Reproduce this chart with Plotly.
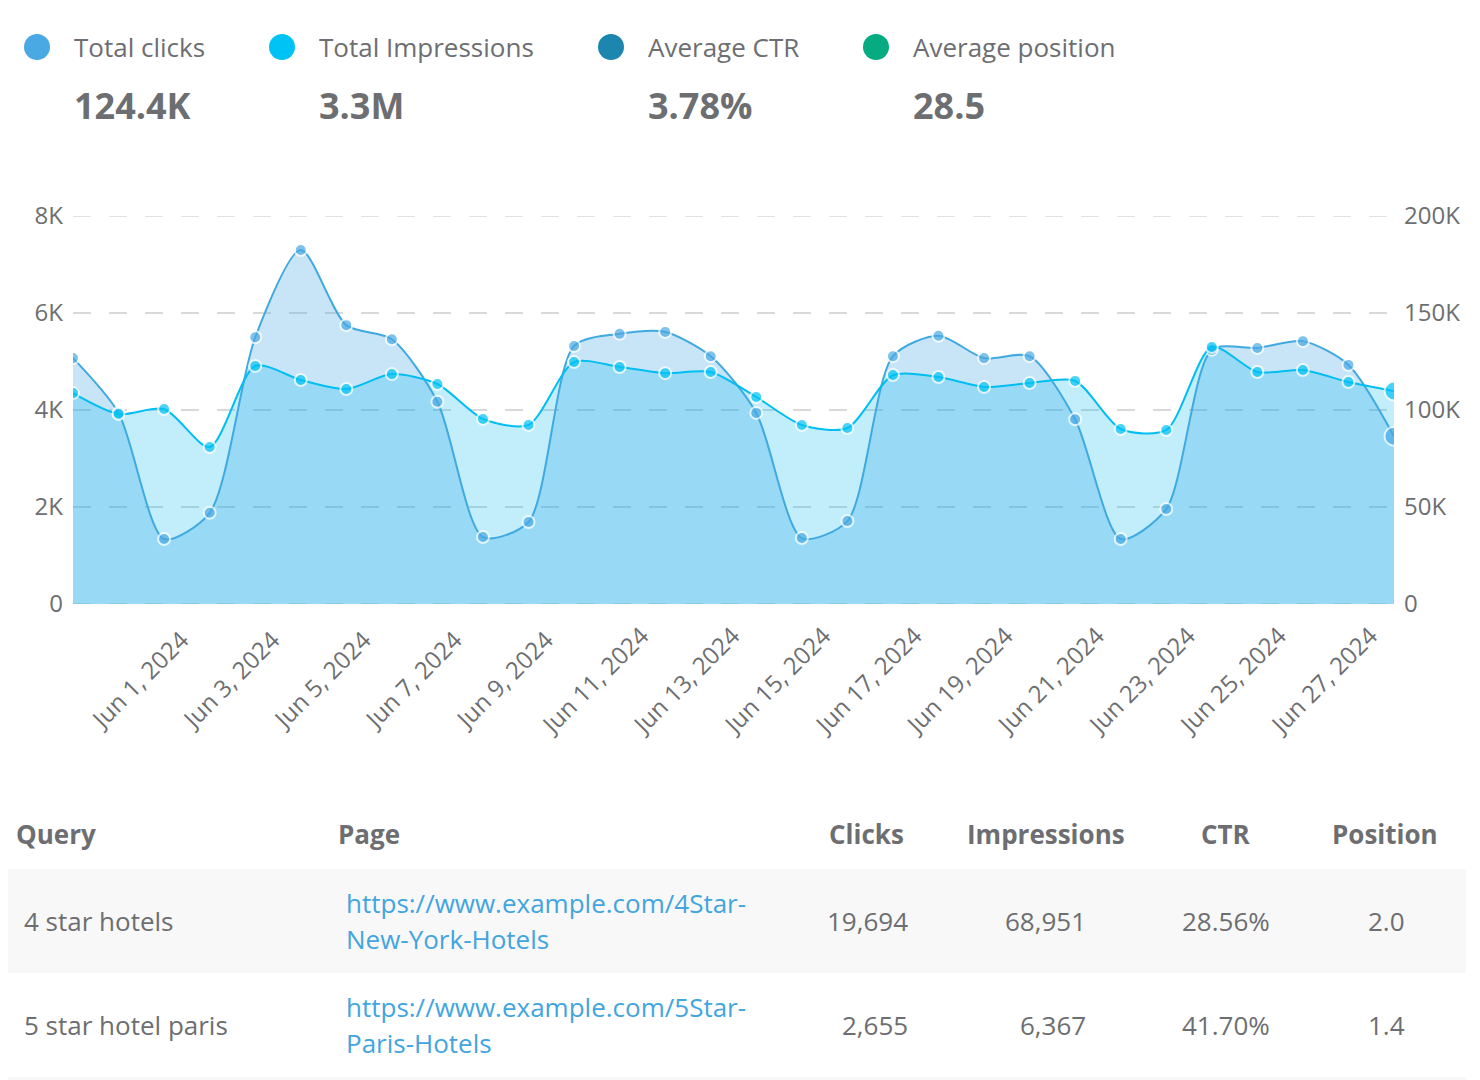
import plotly.graph_objects as go

W, H = 1480, 1080
FONT = "Open Sans"
GREY = "#6d6e71"

dates = ["2024-05-30", "2024-05-31", "2024-06-01", "2024-06-02", "2024-06-03", "2024-06-04",
         "2024-06-05", "2024-06-06", "2024-06-07", "2024-06-08", "2024-06-09", "2024-06-10",
         "2024-06-11", "2024-06-12", "2024-06-13", "2024-06-14", "2024-06-15", "2024-06-16",
         "2024-06-17", "2024-06-18", "2024-06-19", "2024-06-20", "2024-06-21", "2024-06-22",
         "2024-06-23", "2024-06-24", "2024-06-25", "2024-06-26", "2024-06-27", "2024-06-28"]
clicks = [5070, 3940, 1340, 1880, 5500, 7300, 5750, 5460, 4170, 1380,
          1690, 5320, 5570, 5610, 5110, 3940, 1360, 1710, 5110, 5530,
          5070, 5110, 3810, 1340, 1960, 5240, 5280, 5420, 4930, 3460]
impressions = [108700, 97900, 100500, 80900, 122700, 115500, 110800, 118500, 113400, 95400,
               92300, 124700, 122200, 119000, 119600, 106700, 92300, 90700, 118000, 117000,
               111900, 113900, 115000, 90200, 89700, 132500, 119600, 120600, 114400, 109800]

x_ticks = ["2024-06-01", "2024-06-03", "2024-06-05", "2024-06-07", "2024-06-09", "2024-06-11",
           "2024-06-13", "2024-06-15", "2024-06-17", "2024-06-19", "2024-06-21", "2024-06-23",
           "2024-06-25", "2024-06-27"]
x_labels = ["Jun 1, 2024", "Jun 3, 2024", "Jun 5, 2024", "Jun 7, 2024", "Jun 9, 2024", "Jun 11, 2024",
            "Jun 13, 2024", "Jun 15, 2024", "Jun 17, 2024", "Jun 19, 2024", "Jun 21, 2024", "Jun 23, 2024",
            "Jun 25, 2024", "Jun 27, 2024"]
left_ticks = [0, 2000, 4000, 6000, 8000]
left_labels = ["0", "2K", "4K", "6K", "8K"]
right_ticks = [0, 50000, 100000, 150000, 200000]
right_labels = ["0", "50K", "100K", "150K", "200K"]

legend_names = ["Total clicks", "Total Impressions", "Average CTR", "Average position"]
legend_values = ["124.4K", "3.3M", "3.78%", "28.5"]
legend_colors = ["#4aa9e3", "#00c3f5", "#1d86ae", "#07ab81"]
legend_dot_x = [37, 282, 611, 876]
legend_text_x = [74, 319, 648, 913]

headers = ["Query", "Page", "Clicks", "Impressions", "CTR", "Position"]
queries = ["4 star hotels", "5 star hotel paris"]
pages_line1 = ["https://www.example.com/4Star-", "https://www.example.com/5Star-"]
pages_line2 = ["New-York-Hotels", "Paris-Hotels"]
click_cells = ["19,694", "2,655"]
impression_cells = ["68,951", "6,367"]
ctr_cells = ["28.56%", "41.70%"]
position_cells = ["2.0", "1.4"]


def px(x):
    return x / W


def py(y):
    return 1 - y / H


def label(x, y, text, size=26, color=GREY, anchor="left", bold=False):
    t = f"<b>{text}</b>" if bold else text
    return dict(xref="paper", yref="paper", x=px(x), y=py(y - 1), text=t, showarrow=False,
                xanchor=anchor, yanchor="middle", align=anchor, borderpad=0, borderwidth=0,
                font=dict(family=FONT, size=size, color=color))


def sizes(n):
    return [12] * (n - 1) + [19]


SMOOTH = 0.75
fig = go.Figure()
# filled areas first, on the two visible axes
fig.add_trace(go.Scatter(
    x=dates, y=clicks, yaxis="y", mode="lines", hoverinfo="skip",
    line=dict(shape="spline", smoothing=SMOOTH, width=0),
    fill="tozeroy", fillcolor="rgba(74,169,227,0.30)",
))
fig.add_trace(go.Scatter(
    x=dates, y=impressions, yaxis="y2", mode="lines", hoverinfo="skip",
    line=dict(shape="spline", smoothing=SMOOTH, width=0),
    fill="tozeroy", fillcolor="rgba(0,185,242,0.24)",
))
# lines and markers on top of both fills
fig.add_trace(go.Scatter(
    x=dates, y=clicks, name="Total clicks", yaxis="y3", mode="lines+markers",
    line=dict(shape="spline", smoothing=SMOOTH, color="#3fa9e0", width=2),
    marker=dict(size=sizes(len(clicks)), color="#4aa9e3", line=dict(color="#ffffff", width=2)),
))
fig.add_trace(go.Scatter(
    x=dates, y=impressions, name="Total Impressions", yaxis="y4", mode="lines+markers",
    line=dict(shape="spline", smoothing=SMOOTH, color="#00bdf2", width=2),
    marker=dict(size=sizes(len(impressions)), color="#00c3f5", line=dict(color="#ffffff", width=2)),
))

annotations = []
shapes = []
R = 13
for i, n in enumerate(legend_names):
    annotations.append(label(legend_text_x[i], 48, n, size=26))
    annotations.append(label(legend_text_x[i], 107, legend_values[i], size=36, bold=True))
    shapes.append(dict(type="circle", xref="paper", yref="paper", layer="above",
                       x0=px(legend_dot_x[i] - R), x1=px(legend_dot_x[i] + R),
                       y0=py(47 + R), y1=py(47 - R),
                       fillcolor=legend_colors[i], line=dict(width=0)))

# table
annotations.append(label(16, 835, headers[0], size=26, bold=True))
annotations.append(label(338, 835, headers[1], size=26, bold=True))
for x, h in zip([867, 1046, 1226, 1385], headers[2:]):
    annotations.append(label(x, 835, h, size=26, anchor="center", bold=True))

shapes.append(dict(type="rect", xref="paper", yref="paper", layer="below",
                   x0=px(8), x1=px(1466), y0=py(973), y1=py(869),
                   fillcolor="#f8f8f8", line=dict(width=0)))
shapes.append(dict(type="rect", xref="paper", yref="paper", layer="below",
                   x0=px(8), x1=px(1466), y0=py(1080), y1=py(1077),
                   fillcolor="#f8f8f8", line=dict(width=0)))

for r, y in enumerate([922, 1026]):
    annotations.append(label(24, y, queries[r], size=26))
    annotations.append(label(346, y - 18, pages_line1[r], size=26, color="#42a5e0"))
    annotations.append(label(346, y + 18, pages_line2[r], size=26, color="#42a5e0"))
    annotations.append(label(908, y, click_cells[r], size=26, anchor="right"))
    annotations.append(label(1086, y, impression_cells[r], size=26, anchor="right"))
    annotations.append(label(1226, y, ctr_cells[r], size=26, anchor="center"))
    annotations.append(label(1386, y, position_cells[r], size=26, anchor="center"))

GRID = dict(color="#d9d9d9", width=1.5, dash="18px,18px")
# plotly drops grid lines lying on the plot edge, so the 0 and 8K rules are added as shapes
for v in (left_ticks[0], left_ticks[-1]):
    shapes.append(dict(type="line", xref="x domain", yref="y", layer="below",
                       x0=0, x1=1, y0=v, y1=v, line=GRID))

tick_font = dict(family=FONT, size=24, color=GREY)
hidden = dict(domain=[py(604), py(216)], anchor="x", visible=False, showgrid=False, zeroline=False)

# the reference centres its rotated labels; a trailing no-break space on the shorter
# labels reproduces that with plotly's end-anchored rotation
padded_labels = [t + "\u00a0" if len(t) == 11 else t for t in x_labels]

fig.update_layout(
    width=W, height=H, margin=dict(l=0, r=0, t=0, b=0, pad=0, autoexpand=False),
    paper_bgcolor="#ffffff", plot_bgcolor="#ffffff", showlegend=False,
    font=dict(family=FONT, color=GREY, size=24),
    annotations=annotations, shapes=shapes,
    xaxis=dict(domain=[px(73), px(1394)], type="date", range=[dates[0], dates[-1]],
               tickvals=x_ticks, ticktext=padded_labels, tickangle=-45,
               showgrid=False, zeroline=False, showline=False, ticks="",
               tickfont=tick_font, ticklabelstandoff=12, ticklabelshift=22),
    yaxis=dict(domain=[py(604), py(216)], range=[0, 8000], tickvals=left_ticks, ticktext=left_labels,
               tickfont=tick_font, ticklabelstandoff=9, showgrid=True, gridcolor=GRID["color"],
               griddash=GRID["dash"], gridwidth=GRID["width"], zeroline=False, showline=False, ticks=""),
    yaxis2=dict(domain=[py(604), py(216)], range=[0, 200000], overlaying="y", side="right",
                anchor="x", tickvals=right_ticks, ticktext=right_labels, showgrid=False,
                zeroline=False, showline=False, ticks="", tickfont=tick_font, ticklabelstandoff=9),
    yaxis3=dict(range=[0, 8000], overlaying="y", **hidden),
    yaxis4=dict(range=[0, 200000], overlaying="y", **hidden),
)

fig.write_html("out.html", config={"displayModeBar": False},
               post_script="document.body.style.margin='0';document.body.style.overflow='hidden';")
